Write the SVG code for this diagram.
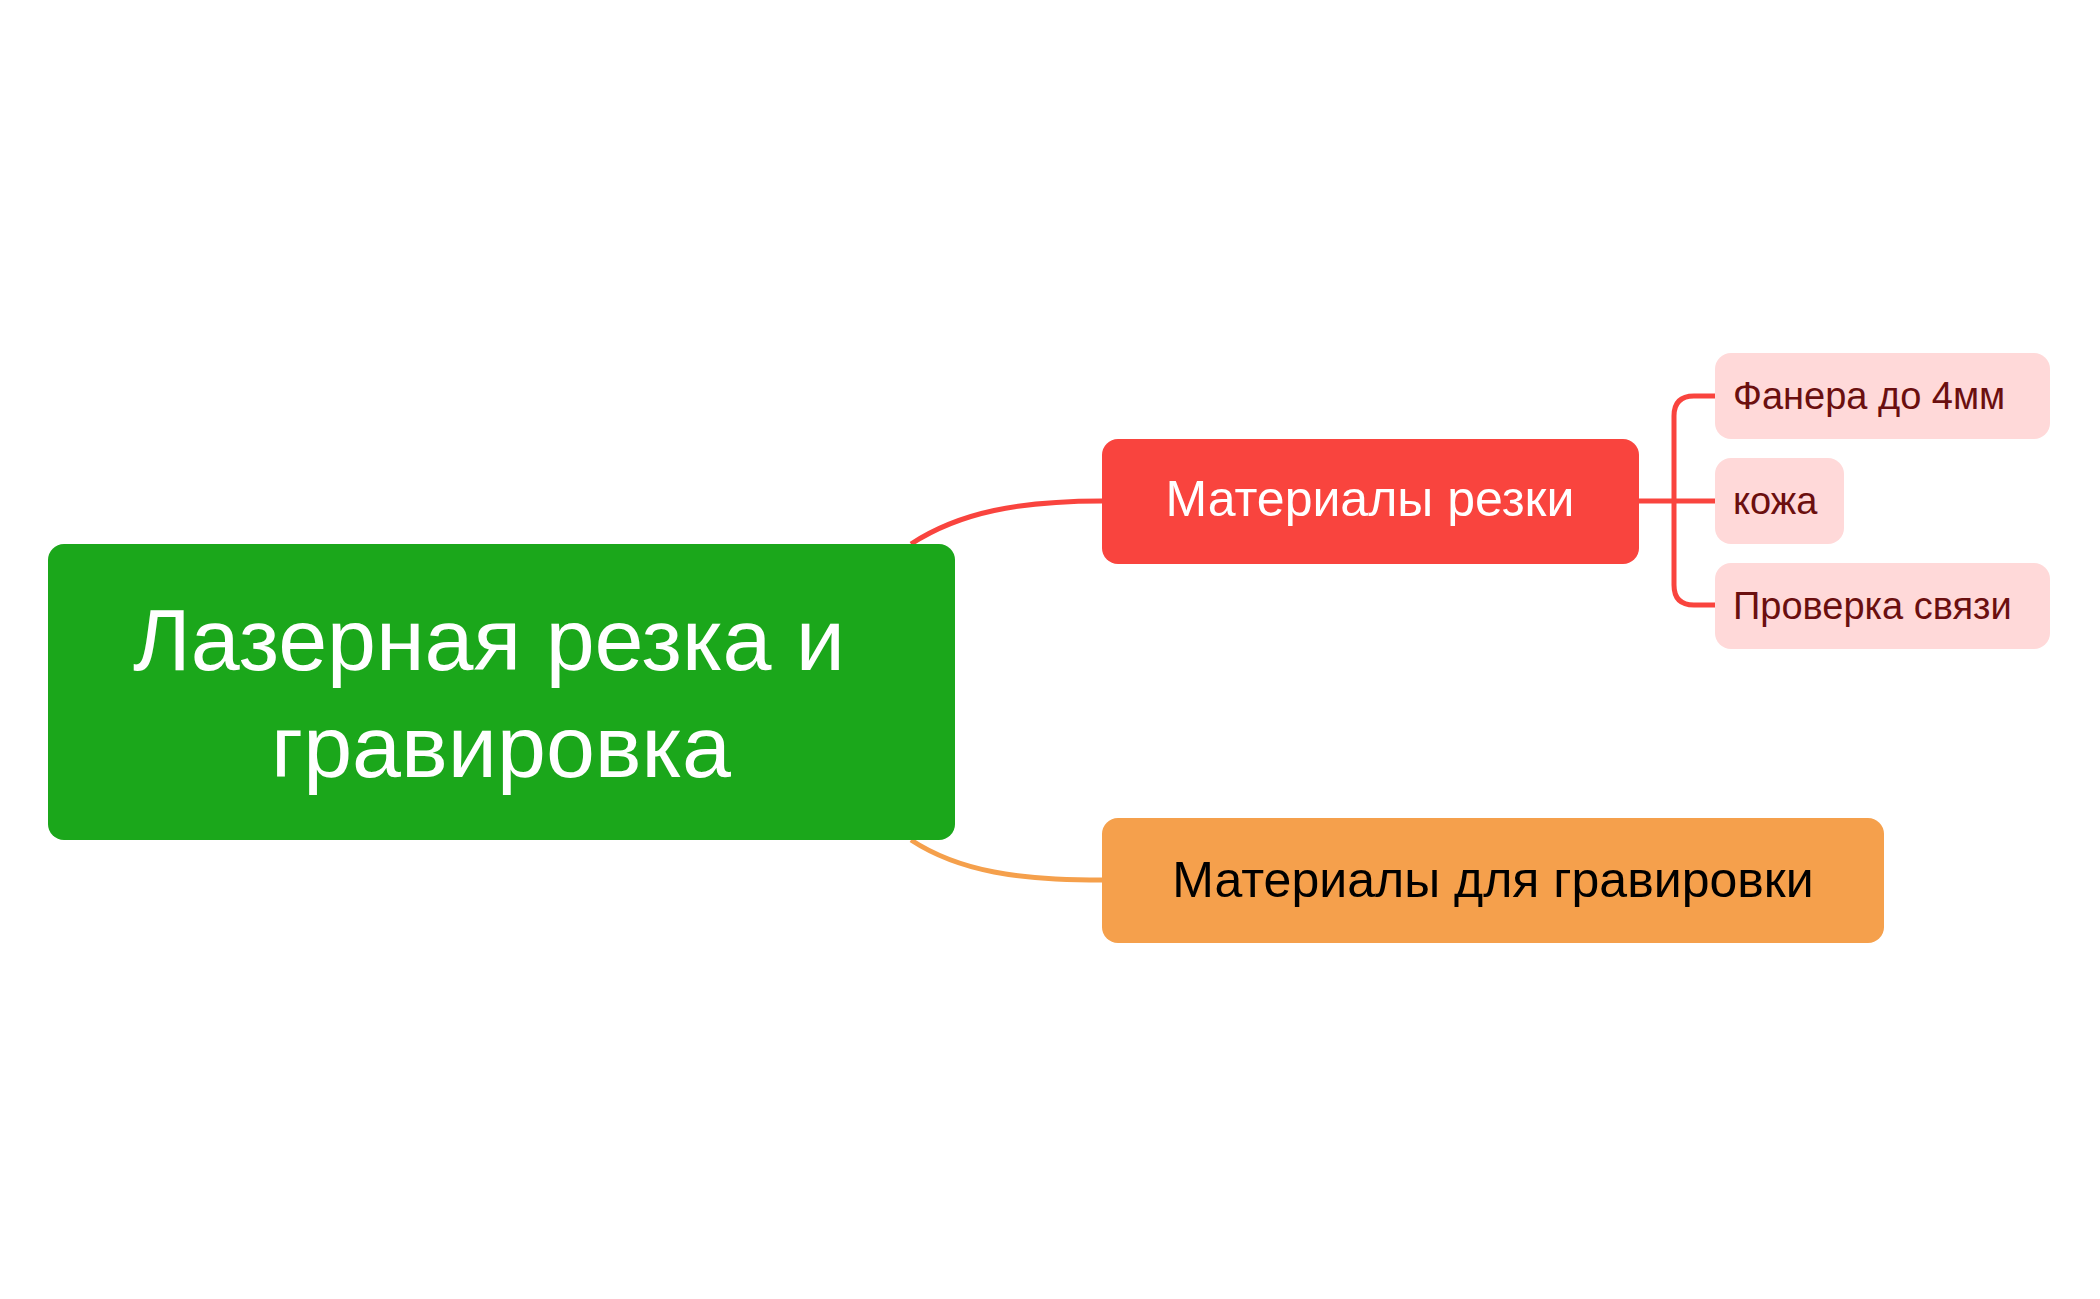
<svg xmlns="http://www.w3.org/2000/svg" width="2100" height="1299" viewBox="0 0 2100 1299">
<style>
text{font-family:"Liberation Sans",Arial,sans-serif}
.leaf rect{fill:#FFD9D9}
.leaf text{fill:#6B0F0F;font-size:38px}
.c{fill:none;stroke-width:5}
</style>
<rect width="2100" height="1299" fill="#fff"/>
<g id="connectors">
<path class="c" stroke="#F9443E" d="M911,544 C960,512 1020,501 1102,501"/>
<path class="c" stroke="#F5A04C" d="M911,840 C960,872 1020,880 1102,880"/>
<path class="c" stroke="#F9443E" d="M1639,501 H1715 M1715,396 H1694 Q1674,396 1674,416 V585 Q1674,605 1694,605 H1715"/>
</g>
<g id="root"><rect x="48" y="544" width="907" height="296" rx="16" fill="#1BA71B"/>
<text x="489" y="670" font-size="88" fill="#fff" text-anchor="middle">Лазерная резка и</text>
<text x="501" y="777" font-size="88" fill="#fff" text-anchor="middle">гравировка</text></g>
<g id="cut"><rect x="1102" y="439" width="537" height="125" rx="16" fill="#F9443E"/>
<text x="1370" y="516" font-size="50" fill="#fff" text-anchor="middle">Материалы резки</text></g>
<g id="engrave"><rect x="1102" y="818" width="782" height="125" rx="16" fill="#F5A04C"/>
<text x="1493" y="897" font-size="50" fill="#000" text-anchor="middle">Материалы для гравировки</text></g>
<g id="leaf1" class="leaf"><rect x="1715" y="353" width="335" height="86" rx="16"/><text x="1733" y="409">Фанера до 4мм</text></g>
<g id="leaf2" class="leaf"><rect x="1715" y="458" width="129" height="86" rx="16"/><text x="1733" y="514">кожа</text></g>
<g id="leaf3" class="leaf"><rect x="1715" y="563" width="335" height="86" rx="16"/><text x="1733" y="619">Проверка связи</text></g>
</svg>
